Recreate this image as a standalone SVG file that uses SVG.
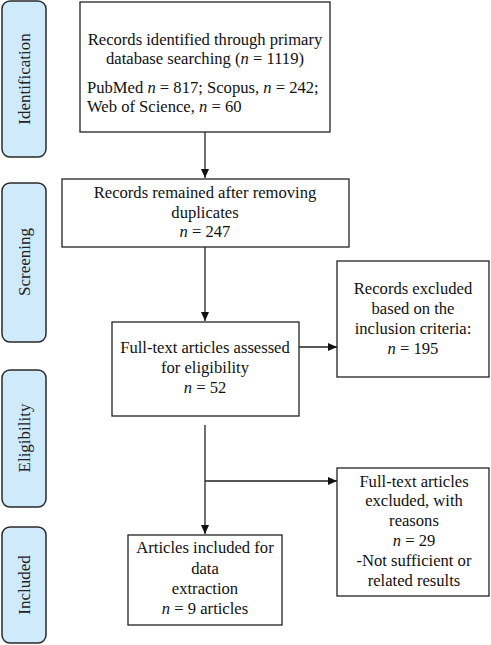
<svg xmlns="http://www.w3.org/2000/svg" width="491" height="645" viewBox="0 0 491 645">
<defs>
<marker id="ah" markerWidth="10" markerHeight="10" refX="9" refY="5" orient="auto" markerUnits="userSpaceOnUse">
<path d="M0,1 L9,5 L0,9 Z" fill="#111"/>
</marker>
<style>
.stage{fill:#cfeafb;stroke:#2a2a2a;stroke-width:1.5}
.box{fill:#fff;stroke:#222;stroke-width:1.3}
text{font-family:'Liberation Serif','DejaVu Serif',serif}
.t{font-size:16.6px;fill:#111}
.st{font-size:17px;fill:#222}
.c{text-anchor:middle}
.line{stroke:#222;stroke-width:1.3;fill:none}
</style>
</defs>
<rect width="491" height="645" fill="#fff"/>
<g id="stage-identification">
<rect class="stage" x="2" y="1" width="44" height="156" rx="8"/>
<text class="st c" font-family="Liberation Serif, serif" transform="translate(30,79) rotate(-90)">Identification</text>
</g>
<g id="stage-screening">
<rect class="stage" x="2" y="183" width="44" height="159" rx="8"/>
<text class="st c" font-family="Liberation Serif, serif" transform="translate(30,262) rotate(-90)">Screening</text>
</g>
<g id="stage-eligibility">
<rect class="stage" x="2" y="370" width="44" height="137" rx="8"/>
<text class="st c" font-family="Liberation Serif, serif" transform="translate(30,438) rotate(-90)">Eligibility</text>
</g>
<g id="stage-included">
<rect class="stage" x="2" y="527" width="44" height="116" rx="8"/>
<text class="st c" font-family="Liberation Serif, serif" transform="translate(30,585) rotate(-90)">Included</text>
</g>
<g id="connectors">
<line class="line" x1="205" y1="132" x2="205" y2="178" marker-end="url(#ah)"/>
<line class="line" x1="205" y1="247" x2="205" y2="321" marker-end="url(#ah)"/>
<line class="line" x1="299" y1="347" x2="337" y2="347" marker-end="url(#ah)"/>
<line class="line" x1="205" y1="425" x2="205" y2="534" marker-end="url(#ah)"/>
<line class="line" x1="205" y1="481" x2="337" y2="481" marker-end="url(#ah)"/>
</g>
<g id="node-identified" font-family="Liberation Serif, serif">
<rect class="box" x="80" y="2" width="250" height="130"/>
<text class="t c" x="205" y="45">Records identified through primary</text>
<text class="t c" x="205" y="64">database searching (<tspan font-style="italic">n</tspan> = 1119)</text>
<text class="t" x="87" y="93">PubMed <tspan font-style="italic">n</tspan> = 817; Scopus, <tspan font-style="italic">n</tspan> = 242;</text>
<text class="t" x="87" y="112">Web of Science, <tspan font-style="italic">n</tspan> = 60</text>
</g>
<g id="node-screened">
<rect class="box" x="62" y="179" width="287" height="68"/>
<text class="t c" x="205" y="198">Records remained after removing</text>
<text class="t c" x="205" y="218">duplicates</text>
<text class="t c" x="205" y="237"><tspan font-style="italic">n</tspan> = 247</text>
</g>
<g id="node-fulltext">
<rect class="box" x="112" y="322" width="187" height="94"/>
<text class="t c" x="205" y="353">Full-text articles assessed</text>
<text class="t c" x="205" y="373">for eligibility</text>
<text class="t c" x="205" y="393"><tspan font-style="italic">n</tspan> = 52</text>
</g>
<g id="node-excluded-criteria">
<rect class="box" x="337" y="261" width="152" height="116"/>
<text class="t c" x="413" y="294">Records excluded</text>
<text class="t c" x="413" y="314">based on the</text>
<text class="t c" x="413" y="334">inclusion criteria:</text>
<text class="t c" x="413" y="354"><tspan font-style="italic">n</tspan> = 195</text>
</g>
<g id="node-excluded-fulltext">
<rect class="box" x="337" y="468" width="152" height="128"/>
<text class="t c" x="414" y="487">Full-text articles</text>
<text class="t c" x="414" y="506">excluded, with</text>
<text class="t c" x="414" y="526">reasons</text>
<text class="t c" x="414" y="546"><tspan font-style="italic">n</tspan> = 29</text>
<text class="t c" x="414" y="566">-Not sufficient or</text>
<text class="t c" x="414" y="586">related results</text>
</g>
<g id="node-included">
<rect class="box" x="128" y="535" width="154" height="90"/>
<text class="t c" x="205" y="553">Articles included for</text>
<text class="t c" x="205" y="574">data</text>
<text class="t c" x="205" y="594">extraction</text>
<text class="t c" x="205" y="614"><tspan font-style="italic">n</tspan> = 9 articles</text>
</g>
</svg>
